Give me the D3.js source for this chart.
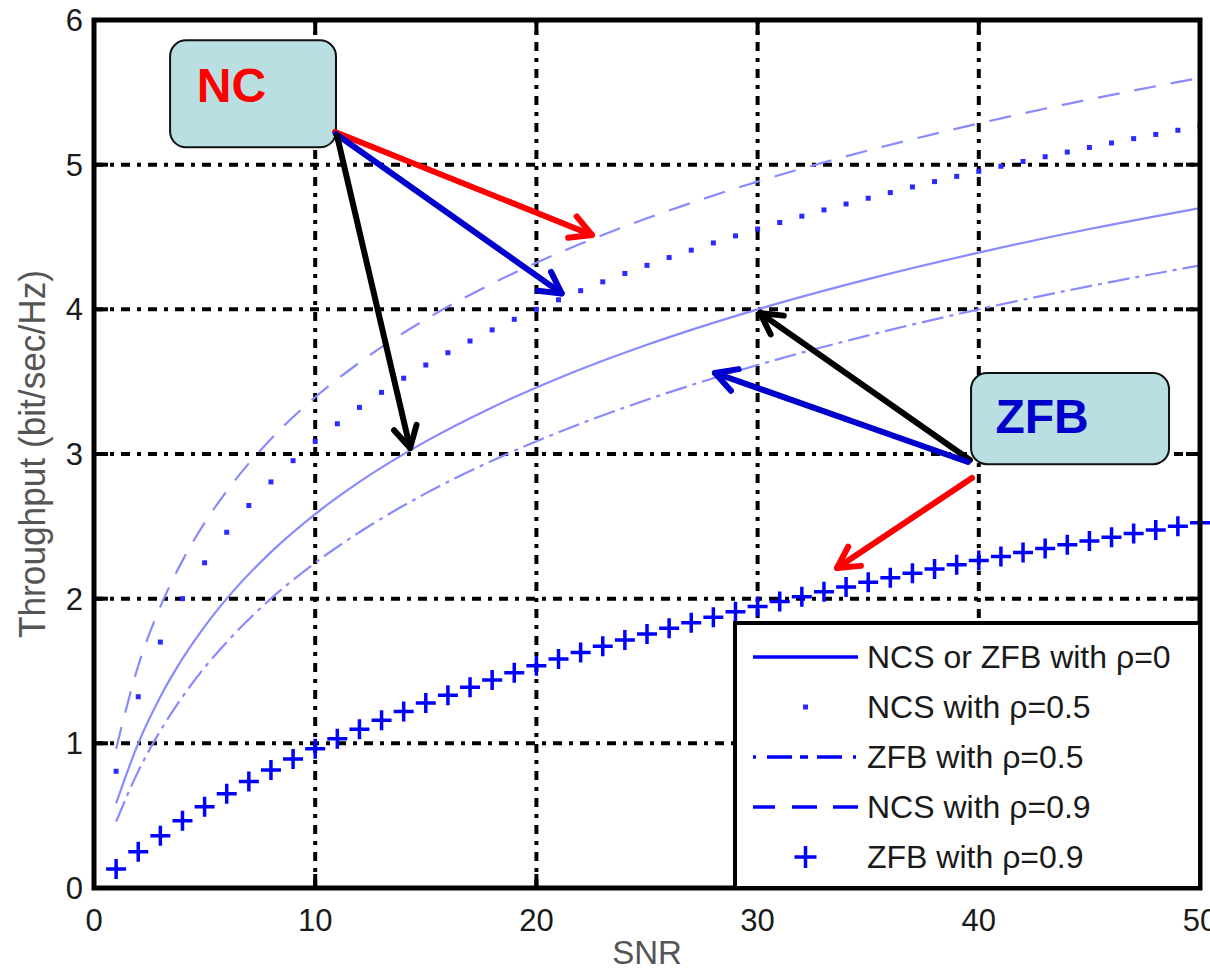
<!DOCTYPE html>
<html>
<head>
<meta charset="utf-8">
<title>Throughput vs SNR</title>
<script src="https://d3js.org/d3.v7.min.js"></script>
<style>
  body { margin: 0; background: #fff; }
  text { font-family: "Liberation Sans", Arial, sans-serif; }
</style>
</head>
<body>
<script>
// x values (SNR) for the smooth curves
var snrCurve = [1, 2, 3, 4, 5, 6, 8, 10, 12, 15, 18, 21, 25, 30, 35, 40, 45, 50];
// NCS or ZFB with rho=0 (solid)
var rho0 = [0.585, 1.0, 1.322, 1.585, 1.807, 2.0, 2.322, 2.585, 2.807, 3.087, 3.322, 3.524, 3.755, 4.0, 4.209, 4.392, 4.555, 4.70];
// ZFB with rho=0.5 (dash-dot)
var zfb05 = [0.459, 0.807, 1.087, 1.322, 1.524, 1.70, 2.0, 2.248, 2.459, 2.728, 2.954, 3.150, 3.375, 3.615, 3.820, 4.0, 4.160, 4.304];
// NCS with rho=0.9 (dashed)
var ncs09 = [0.963, 1.536, 1.945, 2.263, 2.524, 2.744, 3.104, 3.392, 3.632, 3.931, 4.178, 4.389, 4.629, 4.883, 5.098, 5.285, 5.451, 5.60];

// marker series, one point per integer SNR 1..50
var snrInt = d3.range(1, 51);
// NCS with rho=0.5 (dots)
var ncs05 = [0.807, 1.322, 1.700, 2.0, 2.248, 2.459, 2.644, 2.807, 2.954, 3.087,
             3.209, 3.322, 3.426, 3.524, 3.615, 3.700, 3.781, 3.858, 3.931, 4.0,
             4.066, 4.129, 4.190, 4.248, 4.304, 4.358, 4.409, 4.459, 4.508, 4.555,
             4.600, 4.644, 4.687, 4.728, 4.768, 4.807, 4.846, 4.883, 4.919, 4.954,
             4.989, 5.022, 5.055, 5.087, 5.119, 5.150, 5.180, 5.209, 5.238, 5.267];
// ZFB with rho=0.9 (+)
var zfb09 = [0.131, 0.251, 0.362, 0.465, 0.561, 0.651, 0.736, 0.816, 0.891, 0.963,
             1.032, 1.098, 1.160, 1.220, 1.278, 1.333, 1.387, 1.438, 1.488, 1.536,
             1.583, 1.628, 1.671, 1.714, 1.755, 1.795, 1.834, 1.872, 1.909, 1.945,
             1.980, 2.014, 2.048, 2.081, 2.113, 2.144, 2.175, 2.205, 2.234, 2.263,
             2.291, 2.319, 2.346, 2.373, 2.399, 2.425, 2.450, 2.475, 2.500, 2.524];

var xTicks = [0, 10, 20, 30, 40, 50];
var yTicks = [0, 1, 2, 3, 4, 5, 6];
var legendLabels = ["NCS or ZFB with \u03C1=0", "NCS with \u03C1=0.5", "ZFB with \u03C1=0.5", "NCS with \u03C1=0.9", "ZFB with \u03C1=0.9"];

// callouts, in data units: [SNR, throughput]
var callouts = [
  {text: "NC", color: "#ff0000", box: [3.44, 5.86, 10.94, 5.12], tx: 4.65, ty: 5.43},
  {text: "ZFB", color: "#0000cc", box: [39.65, 3.56, 48.6, 2.93], tx: 40.75, ty: 3.145}
];
var arrows = [
  {color: "#ff0000", from: [10.9, 5.226], to: [22.51, 4.514]},
  {color: "#0000cc", from: [10.94, 5.212], to: [21.14, 4.11]},
  {color: "#000000", from: [10.99, 5.198], to: [14.29, 3.041]},
  {color: "#000000", from: [39.6, 2.958], to: [30.11, 3.975]},
  {color: "#0000cc", from: [39.51, 2.945], to: [28.07, 3.56]},
  {color: "#ff0000", from: [39.69, 2.834], to: [33.59, 2.212]}
];

var width = 1210, height = 971;
var mLeft = 94, mRight = 1200, mTop = 20, mBottom = 888;

var svg = d3.select("body").append("svg")
  .attr("width", width)
  .attr("height", height);

var x = d3.scaleLinear().domain([0, 50]).range([mLeft, mRight]);
var y = d3.scaleLinear().domain([0, 6]).range([mBottom, mTop]);

svg.append("defs").append("clipPath").attr("id", "plot")
  .append("rect").attr("x", mLeft).attr("y", mTop)
  .attr("width", mRight - mLeft).attr("height", mBottom - mTop);

// grid
var grid = svg.append("g");
grid.selectAll(".gx").data(xTicks.slice(1, -1)).enter().append("line")
  .attr("x1", d => x(d)).attr("x2", d => x(d))
  .attr("y1", mBottom).attr("y2", mTop)
  .attr("stroke", "#000").attr("stroke-width", 4)
  .attr("stroke-dasharray", "9,7,4,7");
grid.selectAll(".gy").data(yTicks.slice(1, -1)).enter().append("line")
  .attr("y1", d => y(d)).attr("y2", d => y(d))
  .attr("x1", mLeft).attr("x2", mRight)
  .attr("stroke", "#000").attr("stroke-width", 4)
  .attr("stroke-dasharray", "9,7,4,7");

// curves
var curves = svg.append("g").attr("clip-path", "url(#plot)");
var line = d3.line()
  .x(d => x(d[0])).y(d => y(d[1]))
  .curve(d3.curveMonotoneX);
var series = [
  {vals: rho0, dash: null},
  {vals: zfb05, dash: "22,6,4,6"},
  {vals: ncs09, dash: "22,15"}
];
series.forEach(s => {
  curves.append("path")
    .datum(snrCurve.map((v, i) => [v, s.vals[i]]))
    .attr("d", line)
    .attr("fill", "none")
    .attr("stroke", "#8a8aff")
    .attr("stroke-width", 2.2)
    .attr("stroke-dasharray", s.dash);
});

// dotted NCS rho=0.5
curves.selectAll(".dot").data(snrInt).enter().append("rect")
  .attr("x", d => x(d) - 2.5).attr("y", (d, i) => y(ncs05[i]) - 2.5)
  .attr("width", 5).attr("height", 5)
  .attr("fill", "#2a2aff");

// + markers ZFB rho=0.9
var plus = svg.append("g");
plus.selectAll(".p").data(snrInt).enter().append("path")
  .attr("d", (d, i) => {
    var cx = x(d), cy = y(zfb09[i]), s = 10;
    return "M" + (cx - s) + "," + cy + "H" + (cx + s) + "M" + cx + "," + (cy - s) + "V" + (cy + s);
  })
  .attr("stroke", "#0000ff").attr("stroke-width", 3.5).attr("fill", "none");

// frame and inward ticks
svg.append("rect")
  .attr("x", mLeft).attr("y", mTop)
  .attr("width", mRight - mLeft).attr("height", mBottom - mTop)
  .attr("fill", "none").attr("stroke", "#000").attr("stroke-width", 5);
var tl = 14;
xTicks.forEach(t => {
  svg.append("line").attr("x1", x(t)).attr("x2", x(t)).attr("y1", mBottom).attr("y2", mBottom - tl).attr("stroke", "#000").attr("stroke-width", 4);
  svg.append("line").attr("x1", x(t)).attr("x2", x(t)).attr("y1", mTop).attr("y2", mTop + tl).attr("stroke", "#000").attr("stroke-width", 4);
});
yTicks.forEach(t => {
  svg.append("line").attr("y1", y(t)).attr("y2", y(t)).attr("x1", mLeft).attr("x2", mLeft + tl).attr("stroke", "#000").attr("stroke-width", 4);
  svg.append("line").attr("y1", y(t)).attr("y2", y(t)).attr("x1", mRight).attr("x2", mRight - tl).attr("stroke", "#000").attr("stroke-width", 4);
});

// tick labels
svg.selectAll(".xl").data(xTicks).enter().append("text")
  .attr("x", d => x(d)).attr("y", mBottom + 43)
  .attr("text-anchor", "middle")
  .attr("font-size", 31).attr("fill", "#1a1a1a")
  .text(d => d);
svg.selectAll(".yl").data(yTicks).enter().append("text")
  .attr("x", mLeft - 11).attr("y", d => y(d) + 11)
  .attr("text-anchor", "end")
  .attr("font-size", 31).attr("fill", "#1a1a1a")
  .text(d => d);

// axis labels
svg.append("text")
  .attr("x", (mLeft + mRight) / 2).attr("y", 964)
  .attr("text-anchor", "middle")
  .attr("font-size", 33).attr("fill", "#555")
  .text("SNR");
svg.append("text")
  .attr("transform", "translate(" + 45 + "," + ((mTop + mBottom) / 2) + ") rotate(-90)")
  .attr("text-anchor", "middle")
  .attr("font-size", 36).attr("fill", "#555")
  .attr("textLength", 368).attr("lengthAdjust", "spacingAndGlyphs")
  .text("Throughput (bit/sec/Hz)");

// legend
var lg = svg.append("g");
lg.append("rect")
  .attr("x", 735).attr("y", 623)
  .attr("width", mRight - 735).attr("height", mBottom - 623)
  .attr("fill", "#fff").attr("stroke", "#000").attr("stroke-width", 4);
var lx0 = 753, lx1 = 858;
legendLabels.forEach((lab, i) => {
  var cy = 657 + i * 50;
  if (i === 0 || i === 2 || i === 3) {
    lg.append("line").attr("x1", lx0).attr("x2", lx1).attr("y1", cy).attr("y2", cy)
      .attr("stroke", "#0000ff").attr("stroke-width", 3.5)
      .attr("stroke-dasharray", i === 0 ? null : (i === 2 ? "3,11,25,8,8,9,25,11,3" : "22,17,25,16,25"));
  } else if (i === 1) {
    lg.append("rect").attr("x", (lx0 + lx1) / 2 - 2.5).attr("y", cy - 2.5)
      .attr("width", 5).attr("height", 5).attr("fill", "#2a2aff");
  } else {
    var cx = (lx0 + lx1) / 2, s = 11;
    lg.append("path")
      .attr("d", "M" + (cx - s) + "," + cy + "H" + (cx + s) + "M" + cx + "," + (cy - s) + "V" + (cy + s))
      .attr("stroke", "#0000ff").attr("stroke-width", 3.5);
  }
  lg.append("text")
    .attr("x", 867).attr("y", cy + 11)
    .attr("font-size", 32).attr("fill", "#1a1a1a")
    .text(lab);
});

// callout boxes
callouts.forEach(c => {
  svg.append("rect")
    .attr("x", x(c.box[0])).attr("y", y(c.box[1]))
    .attr("width", x(c.box[2]) - x(c.box[0]))
    .attr("height", y(c.box[3]) - y(c.box[1]))
    .attr("rx", 16).attr("ry", 16)
    .attr("fill", "#b9dfe2").attr("stroke", "#111").attr("stroke-width", 2);
  svg.append("text")
    .attr("x", x(c.tx)).attr("y", y(c.ty))
    .attr("font-size", 48).attr("font-weight", "bold")
    .attr("fill", c.color)
    .text(c.text);
});

// arrows
arrows.forEach(a => {
  var x1 = x(a.from[0]), y1 = y(a.from[1]), x2 = x(a.to[0]), y2 = y(a.to[1]);
  var ang = Math.atan2(y2 - y1, x2 - x1), L = 24, h = 0.5;
  var p1 = [x2 - L * Math.cos(ang - h), y2 - L * Math.sin(ang - h)];
  var p2 = [x2 - L * Math.cos(ang + h), y2 - L * Math.sin(ang + h)];
  svg.append("line")
    .attr("x1", x1).attr("y1", y1).attr("x2", x2).attr("y2", y2)
    .attr("stroke", a.color).attr("stroke-width", 6).attr("stroke-linecap", "round");
  svg.append("path")
    .attr("d", "M" + p1 + "L" + x2 + "," + y2 + "L" + p2)
    .attr("fill", "none").attr("stroke", a.color).attr("stroke-width", 6)
    .attr("stroke-linecap", "round").attr("stroke-linejoin", "round");
});
</script>
</body>
</html>
